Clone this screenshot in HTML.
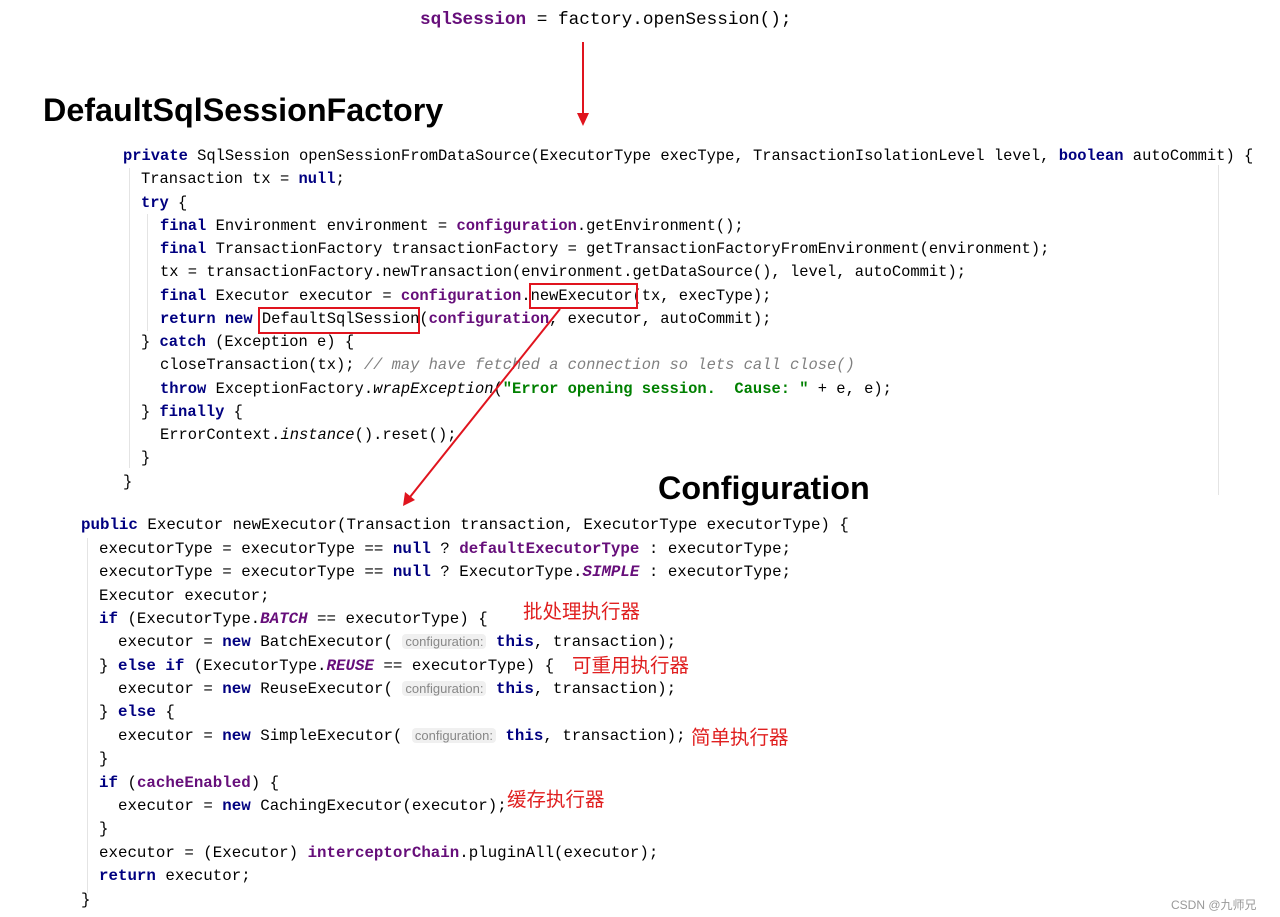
<!DOCTYPE html>
<html><head><meta charset="utf-8"><style>
body{margin:0;width:1280px;height:917px;background:#fff;position:relative;overflow:hidden}
.l{position:absolute;white-space:pre;font-family:"Liberation Mono",monospace;font-size:15.45px;line-height:22px;color:#000}
.b .l{font-size:15.8px}
.k{color:#000080;font-weight:bold}
.f{color:#660e7a;font-weight:bold}
.fi{color:#660e7a;font-weight:bold;font-style:italic}
.s{color:#008000;font-weight:bold}
.c{color:#808080;font-style:italic}
i{font-style:italic}
.h{font-family:"Liberation Sans",sans-serif;font-size:13px;color:#888;background:#f0f0f0;border-radius:4px;padding:0 3px}
.t{position:absolute;font-family:"Liberation Sans",sans-serif;font-weight:bold;font-size:32.3px;color:#000;line-height:36px}
.z{position:absolute;font-family:"Liberation Sans","Noto Sans CJK SC",sans-serif;font-size:19.5px;color:#e02020;line-height:22px}
.g{position:absolute;width:1px;background:#e4e4e4}
</style></head><body>
<div class="l" style="left:420px;top:9px;font-size:17.7px"><span class="f">sqlSession</span> = factory.openSession();</div>
<div class="t" style="left:43px;top:92px">DefaultSqlSessionFactory</div>
<div class="t" style="left:658px;top:470px">Configuration</div>
<div class="g" style="left:1218px;top:165px;height:330px"></div>
<div class="g" style="left:129px;top:168px;height:300px"></div>
<div class="g" style="left:147px;top:214px;height:117px"></div>
<div class="g" style="left:87px;top:538px;height:355px"></div>
<div class="l" style="left:123px;top:145px"><span class="k">private</span> SqlSession openSessionFromDataSource(ExecutorType execType, TransactionIsolationLevel level, <span class="k">boolean</span> autoCommit) {</div>
<div class="l" style="left:141px;top:168px">Transaction tx = <span class="k">null</span>;</div>
<div class="l" style="left:141px;top:192px"><span class="k">try</span> {</div>
<div class="l" style="left:160px;top:215px"><span class="k">final</span> Environment environment = <span class="f">configuration</span>.getEnvironment();</div>
<div class="l" style="left:160px;top:238px"><span class="k">final</span> TransactionFactory transactionFactory = getTransactionFactoryFromEnvironment(environment);</div>
<div class="l" style="left:160px;top:261px">tx = transactionFactory.newTransaction(environment.getDataSource(), level, autoCommit);</div>
<div class="l" style="left:160px;top:285px"><span class="k">final</span> Executor executor = <span class="f">configuration</span>.newExecutor(tx, execType);</div>
<div class="l" style="left:160px;top:308px"><span class="k">return new</span> DefaultSqlSession(<span class="f">configuration</span>, executor, autoCommit);</div>
<div class="l" style="left:141px;top:331px">} <span class="k">catch</span> (Exception e) {</div>
<div class="l" style="left:160px;top:354px">closeTransaction(tx); <span class="c">// may have fetched a connection so lets call close()</span></div>
<div class="l" style="left:160px;top:378px"><span class="k">throw</span> ExceptionFactory.<i>wrapException</i>(<span class="s">"Error opening session.  Cause: "</span> + e, e);</div>
<div class="l" style="left:141px;top:401px">} <span class="k">finally</span> {</div>
<div class="l" style="left:160px;top:424px">ErrorContext.<i>instance</i>().reset();</div>
<div class="l" style="left:141px;top:447px">}</div>
<div class="l" style="left:123px;top:471px">}</div>
<div class="b">
<div class="l" style="left:81px;top:514px"><span class="k">public</span> Executor newExecutor(Transaction transaction, ExecutorType executorType) {</div>
<div class="l" style="left:99px;top:538px">executorType = executorType == <span class="k">null</span> ? <span class="f">defaultExecutorType</span> : executorType;</div>
<div class="l" style="left:99px;top:561px">executorType = executorType == <span class="k">null</span> ? ExecutorType.<span class="fi">SIMPLE</span> : executorType;</div>
<div class="l" style="left:99px;top:585px">Executor executor;</div>
<div class="l" style="left:99px;top:608px"><span class="k">if</span> (ExecutorType.<span class="fi">BATCH</span> == executorType) {</div>
<div class="l" style="left:118px;top:631px">executor = <span class="k">new</span> BatchExecutor( <span class="h">configuration:</span> <span class="k">this</span>, transaction);</div>
<div class="l" style="left:99px;top:655px">} <span class="k">else if</span> (ExecutorType.<span class="fi">REUSE</span> == executorType) {</div>
<div class="l" style="left:118px;top:678px">executor = <span class="k">new</span> ReuseExecutor( <span class="h">configuration:</span> <span class="k">this</span>, transaction);</div>
<div class="l" style="left:99px;top:701px">} <span class="k">else</span> {</div>
<div class="l" style="left:118px;top:725px">executor = <span class="k">new</span> SimpleExecutor( <span class="h">configuration:</span> <span class="k">this</span>, transaction);</div>
<div class="l" style="left:99px;top:748px">}</div>
<div class="l" style="left:99px;top:772px"><span class="k">if</span> (<span class="f">cacheEnabled</span>) {</div>
<div class="l" style="left:118px;top:795px">executor = <span class="k">new</span> CachingExecutor(executor);</div>
<div class="l" style="left:99px;top:818px">}</div>
<div class="l" style="left:99px;top:842px">executor = (Executor) <span class="f">interceptorChain</span>.pluginAll(executor);</div>
<div class="l" style="left:99px;top:865px"><span class="k">return</span> executor;</div>
<div class="l" style="left:81px;top:889px">}</div>
</div>
<div class="z" style="left:523px;top:601px">批处理执行器</div>
<div class="z" style="left:572px;top:655px">可重用执行器</div>
<div class="z" style="left:691px;top:727px">简单执行器</div>
<div class="z" style="left:507px;top:789px">缓存执行器</div>
<div style="position:absolute;left:1171px;top:896px;font-family:'Liberation Sans','Noto Sans CJK SC',sans-serif;font-size:12px;color:#999">CSDN @九师兄</div>

<svg style="position:absolute;left:0;top:0" width="1280" height="917">
<rect x="530" y="284" width="107" height="24" fill="none" stroke="#e0141e" stroke-width="2"/>
<rect x="259" y="308" width="160" height="25" fill="none" stroke="#e0141e" stroke-width="2"/>
<line x1="583" y1="42" x2="583" y2="114" stroke="#e0141e" stroke-width="2"/>
<polygon points="577,113 589,113 583,126" fill="#e0141e"/>
<line x1="560" y1="309" x2="410" y2="497" stroke="#e0141e" stroke-width="2"/>
<polygon points="403,506 405,492 415,500" fill="#e0141e"/>
</svg>
</body></html>
